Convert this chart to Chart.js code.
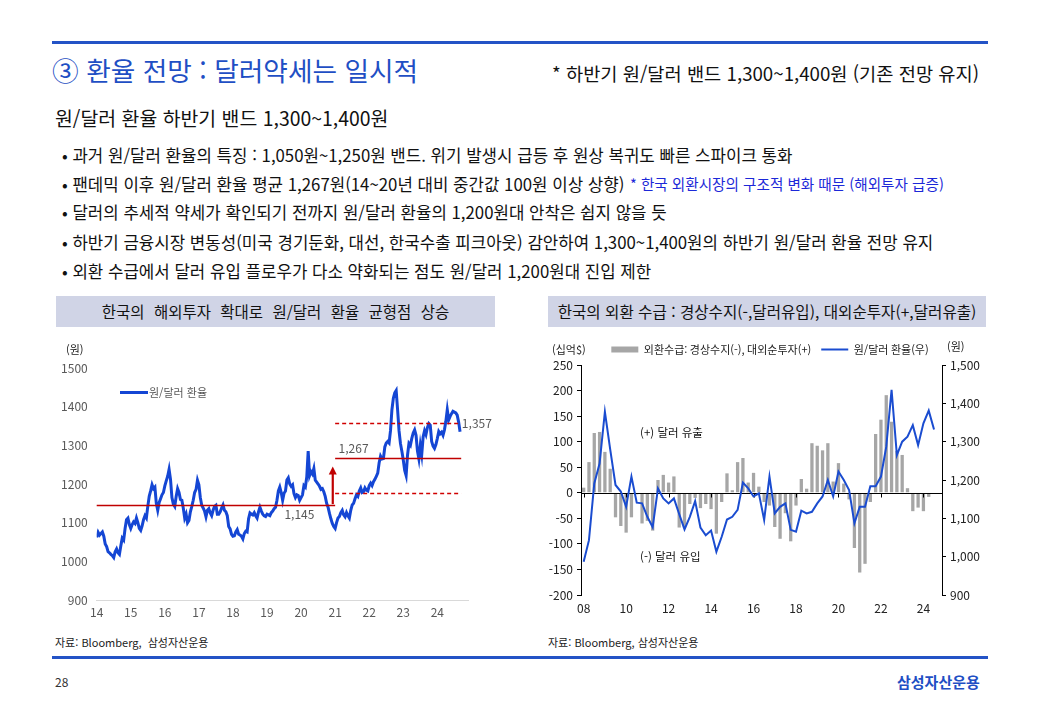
<!DOCTYPE html>
<html lang="ko"><head><meta charset="utf-8">
<script src="https://cdn.jsdelivr.net/npm/chart.js@4.4.1/dist/chart.umd.min.js"></script>
<style>
html,body{margin:0;padding:0;}
body{width:1040px;height:720px;position:relative;overflow:hidden;background:#fff;font-family:"Noto Sans CJK KR","Noto Sans",sans-serif;color:#111;}
.a{position:absolute;white-space:nowrap;}
.rule{position:absolute;left:52px;width:936px;height:3px;background:#2353c6;}
.title{left:52px;top:53px;font-size:26.7px;line-height:34px;color:#1f4fc4;}
.note{left:552px;top:60px;font-size:18.7px;line-height:26px;}
.sub{left:55px;top:105px;font-size:19.4px;line-height:26px;}
.b{left:62px;font-size:16.8px;line-height:22px;}
.blue{left:630px;top:174px;font-size:14.6px;line-height:20px;color:#1c28d8;}
.hdr{position:absolute;top:296px;height:31px;line-height:31px;background:#d0d4e6;text-align:center;white-space:nowrap;color:#111;}
.src{top:634px;font-size:11px;line-height:16px;color:#222;}
.unit{font-size:11px;line-height:14px;color:#222;}
canvas{position:absolute;}
</style></head><body>
<div class="rule" style="top:41px"></div>
<div class="a title">③ 환율 전망 : 달러약세는 일시적</div>
<div class="a note">* 하반기 원/달러 밴드 1,300~1,400원 (기존 전망 유지)</div>
<div class="a sub">원/달러 환율 하반기 밴드 1,300~1,400원</div>
<div class="a b" style="top:144px">• 과거 원/달러 환율의 특징 : 1,050원~1,250원 밴드. 위기 발생시 급등 후 원상 복귀도 빠른 스파이크 통화</div>
<div class="a b" style="top:173px">• 팬데믹 이후 원/달러 환율 평균 1,267원(14~20년 대비 중간값 100원 이상 상향)</div>
<div class="a blue">* 한국 외환시장의 구조적 변화 때문 (해외투자 급증)</div>
<div class="a b" style="top:201px">• 달러의 추세적 약세가 확인되기 전까지 원/달러 환율의 1,200원대 안착은 쉽지 않을 듯</div>
<div class="a b" style="top:231px">• 하반기 금융시장 변동성(미국 경기둔화, 대선, 한국수출 피크아웃) 감안하여 1,300~1,400원의 하반기 원/달러 환율 전망 유지</div>
<div class="a b" style="top:260px">• 외환 수급에서 달러 유입 플로우가 다소 약화되는 점도 원/달러 1,200원대 진입 제한</div>

<div class="hdr" style="left:56px;width:439px;font-size:15.5px;word-spacing:5px;">한국의 해외투자 확대로 원/달러 환율 균형점 상승</div>
<div class="hdr" style="left:548px;width:438px;font-size:15.6px;">한국의 외환 수급 : 경상수지(-,달러유입), 대외순투자(+,달러유출)</div>

<canvas id="c1" width="450" height="290" style="left:50px;top:335px;width:450px;height:290px"></canvas>
<canvas id="c2" width="450" height="291" style="left:545px;top:334px;width:450px;height:291px"></canvas>

<div class="a unit" style="left:66px;top:342px">(원)</div>
<div style="position:absolute;left:120px;top:391px;width:28px;height:3px;background:#1446d4"></div>
<div class="a" id="lg1" style="left:149px;top:384px;font-size:11px;line-height:16px;color:#595959"></div>
<div class="a unit" style="left:552px;top:342px">(십억$)</div>
<div class="a unit" style="left:947px;top:339px">(원)</div>
<div class="a" style="left:640px;top:424px;font-size:11.5px;line-height:16px;">(+) 달러 유출</div>
<div class="a" style="left:640px;top:548px;font-size:11.5px;line-height:16px;">(-) 달러 유입</div>

<div class="a src" style="left:55px">자료: Bloomberg,&nbsp; 삼성자산운용</div>
<div class="a src" style="left:548px">자료: Bloomberg, 삼성자산운용</div>
<div class="rule" style="top:656px"></div>
<div class="a" style="left:55px;top:674px;font-size:12px;line-height:16px;color:#333">28</div>
<div class="a" style="left:897px;top:672px;font-size:15px;line-height:20px;font-weight:bold;color:#1f4fc4">삼성자산운용</div>

<script>
const F = '"Noto Sans CJK KR","Noto Sans",sans-serif';

// ---- Left chart: USD/KRW, semi-monthly readings from Jan 2014 ----
const fxStartYear = 2014;
const fxValues = [
 1062,1075,1068,1072,1076,1065,1045,1038,1025,1022,1018,1015,1010,1025,1032,1022,1018,1040,1060,1055,1085,1108,1112,1095,
 1085,1095,1102,1098,1112,1100,1085,1080,1092,1108,1118,1112,1142,1168,1182,1198,1188,1192,1150,1132,1152,1162,1172,1178,
 1195,1208,1220,1238,1212,1165,1148,1142,1168,1188,1178,1160,1158,1138,1112,1122,1100,1106,1128,1142,1158,1178,1186,1210,
 1198,1165,1145,1138,1130,1115,1132,1136,1125,1118,1132,1142,1145,1122,1122,1128,1138,1146,1132,1128,1118,1090,1084,1070,
 1065,1066,1076,1082,1070,1068,1065,1058,1072,1078,1076,1110,1125,1122,1120,1126,1118,1112,1128,1140,1130,1122,1118,1116,
 1122,1120,1118,1126,1130,1136,1140,1158,1182,1192,1178,1158,1176,1182,1210,1216,1200,1194,1198,1175,1165,1172,1170,1158,
 1165,1172,1196,1192,1218,1285,1222,1232,1226,1240,1210,1205,1200,1194,1186,1188,1180,1168,1150,1140,1124,1110,1098,1090,
 1085,1100,1112,1116,1126,1132,1120,1115,1126,1118,1112,1132,1146,1150,1162,1172,1168,1182,1190,1178,1180,1190,1184,1182,
 1196,1202,1196,1206,1212,1220,1228,1255,1272,1265,1266,1296,1306,1310,1306,1338,1392,1422,1436,1442,1392,1338,1305,1285,
 1262,1235,1222,1275,1305,1300,1318,1332,1340,1326,1285,1265,1300,1276,1322,1338,1328,1346,1356,1352,1310,1298,1292,1302,
 1318,1336,1330,1334,1326,1340,1362,1392,1366,1375,1382,1388,1386,1384,1378,1360,1335
];
const fxSeriesName = '원/달러 환율';
// reference levels (value, x-range in years)
const refLevels = [
 {value:1145, from:14, to:21, dashed:false},
 {value:1267, from:21, to:24.7, dashed:false},
 {value:1357, from:21, to:24.7, dashed:true},
 {value:1177, from:21, to:24.7, dashed:true}
];
const refLabels = [
 {text:'1,145', x:19.95, y:1145, align:'center', base:'top', dy:3},
 {text:'1,267', x:21.1, y:1267, align:'left', base:'bottom', dy:-4},
 {text:'1,357', x:24.72, y:1357, align:'left', base:'middle', dy:0}
];
const arrowSpec = {x:20.93, from:1148, to:1245};

// ---- Right chart: quarterly flows ----
const flowYears = [2008,2009,2010,2011,2012,2013,2014,2015,2016,2017,2018,2019,2020,2021,2022,2023,2024];
const flowValues = [10,60,117,119,80,47,-48,-65,-78,-48,-3,-60,-55,-74,25,35,20,32,-68,-68,-22,-10,-30,-22,-32,-80,-18,38,5,60,68,20,39,12,-18,-25,-67,-90,-40,-95,-25,27,8,97,92,83,97,22,58,18,-13,-108,-156,-139,-18,115,143,191,139,82,74,9,-36,-29,-36,-8];
const krwQuarterEnd = [987,1043,1191,1243,1378,1280,1187,1170,1130,1209,1141,1139,1104,1077,1178,1152,1139,1152,1111,1071,1104,1145,1076,1056,1068,1013,1052,1097,1104,1122,1193,1178,1157,1165,1096,1209,1113,1130,1139,1070,1065,1120,1113,1117,1139,1157,1200,1157,1222,1200,1174,1087,1130,1130,1184,1184,1209,1287,1435,1265,1300,1313,1343,1291,1348,1381,1332];
const flowName = '외환수급: 경상수지(-), 대외순투자(+)';
const krwName = '원/달러 환율(우)';
const quarterLabels = [];
flowYears.forEach(y => { for (let q = 1; q <= 4; q++) quarterLabels.push(y + 'Q' + q); });

document.getElementById('lg1').textContent = fxSeriesName;

const RED = '#c00000';
const leftAnno = {
  id: 'leftAnno',
  afterDatasetsDraw(chart) {
    const {ctx, scales: {x, y}} = chart;
    ctx.save();
    refLevels.forEach(r => {
      ctx.beginPath();
      ctx.strokeStyle = r.dashed ? '#d00000' : RED;
      ctx.lineWidth = r.dashed ? 1.3 : 1.4;
      ctx.setLineDash(r.dashed ? [4, 3] : []);
      const py = Math.round(y.getPixelForValue(r.value)) + 0.5;
      ctx.moveTo(x.getPixelForValue(r.from), py);
      ctx.lineTo(x.getPixelForValue(r.to), py);
      ctx.stroke();
    });
    ctx.setLineDash([]);
    const ax = x.getPixelForValue(arrowSpec.x);
    const y0 = y.getPixelForValue(arrowSpec.from), y1 = y.getPixelForValue(arrowSpec.to);
    ctx.strokeStyle = RED; ctx.fillStyle = RED; ctx.lineWidth = 2.2;
    ctx.beginPath(); ctx.moveTo(ax, y0); ctx.lineTo(ax, y1 + 7); ctx.stroke();
    ctx.beginPath(); ctx.moveTo(ax, y1); ctx.lineTo(ax - 4, y1 + 8); ctx.lineTo(ax + 4, y1 + 8); ctx.closePath(); ctx.fill();
    ctx.font = '12px ' + F; ctx.fillStyle = '#595959';
    refLabels.forEach(l => {
      ctx.textAlign = l.align; ctx.textBaseline = l.base;
      ctx.fillText(l.text, x.getPixelForValue(l.x), y.getPixelForValue(l.y) + l.dy);
    });
    ctx.restore();
  }
};

new Chart(document.getElementById('c1'), {
  type: 'line',
  data: {datasets: [{
    label: fxSeriesName,
    data: fxValues.map((v, i) => ({x: (fxStartYear - 2000) + i / 24, y: v})),
    borderColor: '#1446d4', borderWidth: 3, pointRadius: 0, tension: 0, fill: false
  }]},
  options: {
    responsive: false, animation: false,
    layout: {padding: {top: 33, right: 32, left: 0, bottom: 0}},
    plugins: {legend: {display: false}, tooltip: {enabled: false}},
    scales: {
      x: {type: 'linear', min: 14, max: 24.9,
        grid: {display: false, drawTicks: false}, border: {display: true, color: '#d9d9d9'},
        ticks: {stepSize: 1, includeBounds: false, padding: 5, maxRotation: 0, color: '#595959', font: {size: 12, family: F},
          callback: v => Number.isInteger(v) ? String(v) : null},
        afterFit: s => { s.height = 25; }},
      y: {min: 900, max: 1500,
        grid: {display: false, drawTicks: false}, border: {display: false},
        ticks: {stepSize: 100, padding: 9, color: '#595959', font: {size: 12, family: F},
          callback: v => String(v)},
        afterFit: s => { s.width = 46.7; }}
    }
  },
  plugins: [leftAnno]
});

const zeroLine = {
  id: 'zeroLine',
  afterDatasetDraw(chart, args) {
    if (args.index !== 0) return;
    const {ctx, chartArea: a, scales: {x, y}} = chart;
    const py = Math.round(y.getPixelForValue(0)) + 0.5;
    ctx.save(); ctx.strokeStyle = '#000'; ctx.lineWidth = 1;
    ctx.beginPath(); ctx.moveTo(a.left, py); ctx.lineTo(a.right, py);
    x.ticks.forEach(t => {
      if (t.label === null || t.label === undefined) return;
      const px = Math.round(x.getPixelForValue(t.value)) + 0.5;
      ctx.moveTo(px, py); ctx.lineTo(px, py + 4);
    });
    ctx.stroke(); ctx.restore();
  }
};

new Chart(document.getElementById('c2'), {
  data: {labels: quarterLabels, datasets: [
    {type: 'bar', label: flowName, data: flowValues, backgroundColor: '#a6a6a6', borderWidth: 0,
      barPercentage: 0.62, categoryPercentage: 1, yAxisID: 'y', order: 2},
    {type: 'line', label: krwName, data: krwQuarterEnd, borderColor: '#1a4cd0', borderWidth: 2,
      pointRadius: 0, tension: 0, yAxisID: 'yR', order: 1}
  ]},
  options: {
    responsive: false, animation: false,
    plugins: {
      legend: {position: 'top', align: 'center',
        labels: {usePointStyle: true, pointStyleWidth: 27, boxHeight: 6, padding: 10,
          font: {size: 11, family: F}, color: '#222',
          sort: (a, b) => a.datasetIndex - b.datasetIndex,
          generateLabels(chart) {
            const items = Chart.defaults.plugins.legend.labels.generateLabels(chart);
            items.forEach(it => { it.pointStyle = it.datasetIndex === 0 ? 'rect' : 'line'; });
            return items;
          }}},
      tooltip: {enabled: false}
    },
    scales: {
      x: {type: 'category', offset: true,
        grid: {display: false, drawTicks: false}, border: {display: false},
        ticks: {autoSkip: false, maxRotation: 0, padding: 6, color: '#222', font: {size: 12, family: F},
          callback(v, i) { return i % 8 === 0 ? this.getLabelForValue(v).slice(2, 4) : null; }},
        afterFit: s => { s.height = 30; }},
      y: {position: 'left', min: -200, max: 250,
        grid: {display: true, drawOnChartArea: false, color: '#000', tickLength: 4},
        border: {color: '#000'},
        ticks: {stepSize: 50, padding: 4, color: '#222', font: {size: 12, family: F}},
        afterFit: s => { s.width = 36; }},
      yR: {position: 'right', min: 900, max: 1500,
        grid: {display: true, drawOnChartArea: false, color: '#000', tickLength: 4},
        border: {color: '#000'},
        ticks: {stepSize: 100, padding: 4, color: '#222', font: {size: 12, family: F},
          callback: v => v.toLocaleString('en-US')},
        afterFit: s => { s.width = 53; }}
    }
  },
  plugins: [zeroLine]
});
</script>
</body></html>
